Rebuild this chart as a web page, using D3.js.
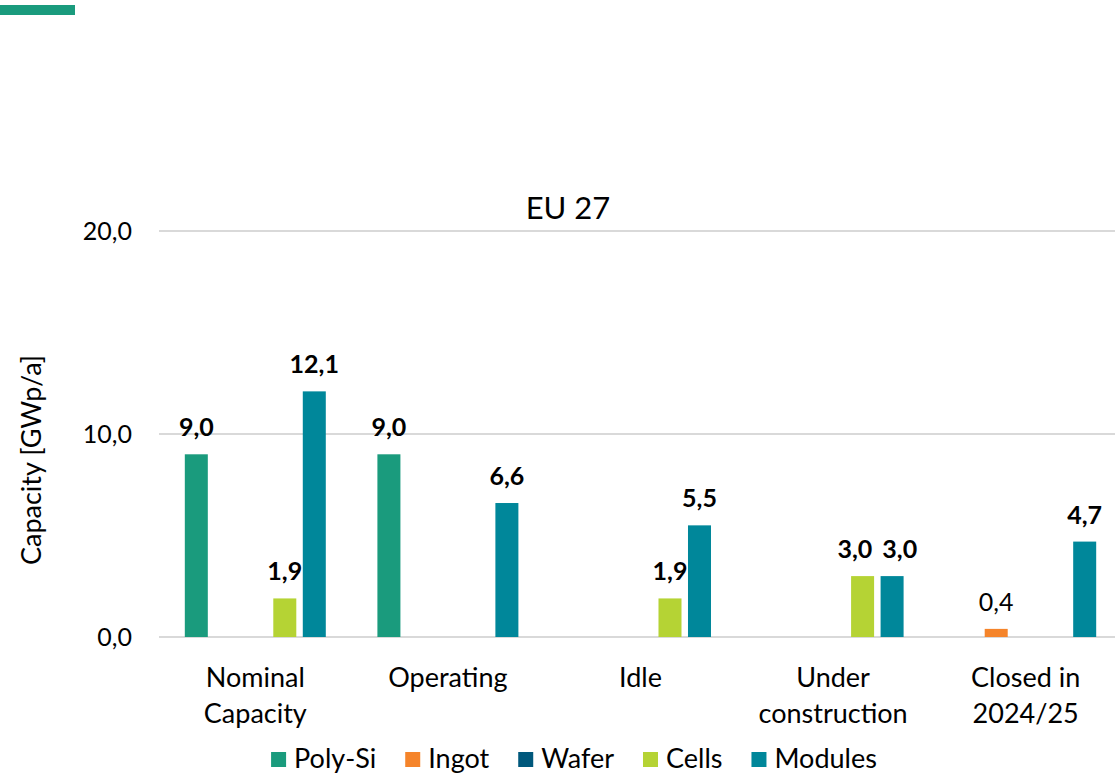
<!DOCTYPE html>
<html>
<head>
<meta charset="utf-8">
<script src="https://cdn.jsdelivr.net/npm/d3@7"></script>
<style>
  body { margin: 0; background: #fff; }
  text { font-family: Lato, "Open Sans", sans-serif; fill: #000; }
</style>
</head>
<body>
<div class="chart"></div>
<script>
// data
const categories = [['Nominal', 'Capacity'], ['Operating'], ['Idle'], ['Under', 'construction'], ['Closed in', '2024/25']];
const seriesNames = ['Poly-Si', 'Ingot', 'Wafer', 'Cells', 'Modules'];
const polySi = [9.0, 9.0, 0, 0, 0];
const ingot = [0, 0, 0, 0, 0.4];
const wafer = [0, 0, 0, 0, 0];
const cells = [1.9, 0, 1.9, 3.0, 0];
const modules = [12.1, 6.6, 5.5, 3.0, 4.7];
const yTicks = [0, 10, 20];
const colors = ['#1a9b7d', '#f5842a', '#00587c', '#b5d334', '#00879a'];

const seriesValues = [polySi, ingot, wafer, cells, modules];
const width = 1115, height = 774;
const fmt = v => d3.format('.1f')(v).replace('.', ',');

const svg = d3.select('.chart')
    .append('svg')
    .attr('width', width)
    .attr('height', height);

// small accent bar top-left
svg.append('rect')
    .attr('x', 0).attr('y', 5)
    .attr('width', 75).attr('height', 10)
    .style('fill', colors[0]);

const x0 = d3.scaleBand()
    .domain(d3.range(categories.length))
    .range([159, 1122])
    .padding(0);

const x1 = d3.scaleBand()
    .domain(seriesNames)
    .range([0, x0.bandwidth()])
    .paddingInner(0.22)
    .paddingOuter(0.875);

const y = d3.scaleLinear()
    .domain([0, 20])
    .range([637, 231]);

// gridlines
svg.append('g')
    .selectAll('line')
    .data(yTicks)
    .enter()
    .append('line')
    .attr('x1', 159)
    .attr('x2', width)
    .attr('y1', d => y(d))
    .attr('y2', d => y(d))
    .attr('stroke', '#d9d9d9')
    .attr('stroke-width', 2);

// y tick labels
svg.append('g')
    .selectAll('text')
    .data(yTicks)
    .enter()
    .append('text')
    .attr('x', 132)
    .attr('y', d => y(d) + 9)
    .style('text-anchor', 'end')
    .style('font-size', '25px')
    .text(fmt);

// y axis title
svg.append('text')
    .attr('transform', 'translate(41,460) rotate(-90)')
    .style('text-anchor', 'middle')
    .style('font-size', '27px')
    .text('Capacity [GWp/a]');

// chart title
svg.append('text')
    .attr('x', 568)
    .attr('y', 219)
    .style('text-anchor', 'middle')
    .style('font-size', '31px')
    .text('EU 27');

// bars
const groups = svg.append('g')
    .selectAll('g')
    .data(categories)
    .enter()
    .append('g')
    .attr('transform', (d, i) => `translate(${x0(i)},0)`);

groups.each(function(cat, i) {
    const g = d3.select(this);
    let labels = [];
    seriesNames.forEach((s, j) => {
        const v = seriesValues[j][i];
        if (v <= 0) return;
        g.append('rect')
            .attr('x', x1(s))
            .attr('y', y(v))
            .attr('width', x1.bandwidth())
            .attr('height', y(0) - y(v))
            .style('fill', colors[j]);
        const t = g.append('text')
            .attr('x', x1(s) + x1.bandwidth() / 2)
            .attr('y', y(v) - 18)
            .style('text-anchor', 'middle')
            .style('font-size', '25px')
            .style('font-weight', v < 1 ? 'normal' : 'bold')
            .text(fmt(v));
        labels.push(t);
    });
    // push apart labels that collide
    for (let k = 1; k < labels.length; k++) {
        const a = labels[k - 1].node().getBBox();
        const b = labels[k].node().getBBox();
        const overlapX = a.x + a.width + 10 - b.x;
        const overlapY = Math.min(a.y + a.height, b.y + b.height) - Math.max(a.y, b.y);
        if (overlapX > 0 && overlapY > 0) {
            labels[k - 1].attr('x', +labels[k - 1].attr('x') - overlapX / 2);
            labels[k].attr('x', +labels[k].attr('x') + overlapX / 2);
        }
    }
    // category label
    cat.forEach((line, k) => {
        g.append('text')
            .attr('x', x0.bandwidth() / 2)
            .attr('y', 687 + k * 36)
            .style('text-anchor', 'middle')
            .style('font-size', '27px')
            .text(line);
    });
});

// legend
const legend = svg.append('g');
let lx = 0;
seriesNames.forEach((s, j) => {
    legend.append('rect')
        .attr('x', lx)
        .attr('y', 752)
        .attr('width', 15)
        .attr('height', 15)
        .style('fill', colors[j]);
    const t = legend.append('text')
        .attr('x', lx + 23)
        .attr('y', 768)
        .style('font-size', '27px')
        .text(s);
    lx += 23 + t.node().getComputedTextLength() + 29;
});
const legendWidth = lx - 29;
legend.attr('transform', `translate(${574 - legendWidth / 2},0)`);
</script>
</body>
</html>
